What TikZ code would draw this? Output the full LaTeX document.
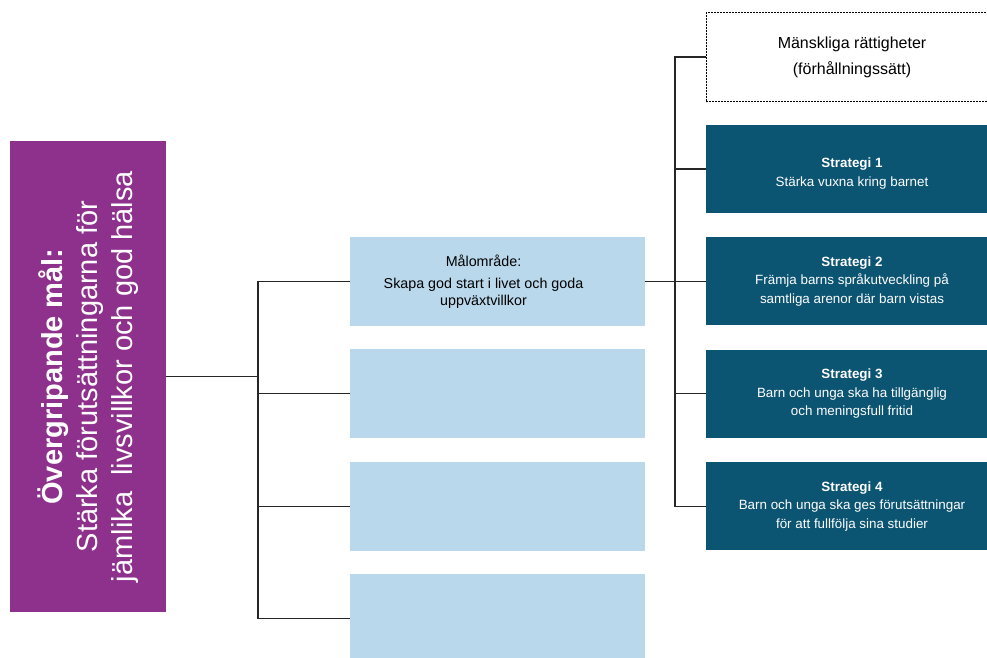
\documentclass[tikz,border=0pt]{standalone}
\usepackage{fontspec}
\setmainfont{Liberation Sans}
\usetikzlibrary{positioning}
\definecolor{goal_purple}{RGB}{142,49,141}
\definecolor{strat_blue}{RGB}{11,84,114}
\definecolor{area_blue}{RGB}{185,216,235}

\begin{document}
\begin{tikzpicture}[x=1pt, y=1pt, node distance=23pt,
	area/.style={fill=area_blue, minimum width=295pt, minimum height=89pt, inner sep=0pt, align=center, font=\fontsize{14.3}{17}\selectfont},
	strat/.style={fill=strat_blue, text=white, minimum width=292pt, minimum height=88pt, inner sep=0pt, align=center, font=\fontsize{13.4}{18.5}\selectfont},
	link/.style={draw=black!85, line width=1.1pt}]
				\useasboundingbox (0,0) rectangle (987,-657);
				\node (goal_main) [fill=goal_purple, minimum width=156pt, minimum height=471pt, inner sep=0pt] at (88,-376.5) {};
				\node (goal_text) [rotate=90, text=white, align=center, font=\fontsize{29}{35}\selectfont] at (goal_main.center) {
					\textbf{Övergripande mål:}\\
					Stärka förutsättningarna för\\
					jämlika\ \ livsvillkor och god hälsa
				};
				\node (area_one) [area] at (497.5,-281.5) {};
				\node (area_one_text) [align=center, font=\fontsize{14.3}{17}\selectfont] at ([xshift=-14pt]area_one.center) {Målområde:\\[5pt] Skapa god start i livet och goda\\ uppväxtvillkor};
				\node (area_two) [area, below=of area_one] {};
				\node (area_three) [area, below=of area_two] {};
				\node (area_four) [area, below=of area_three] {};
				\node (rights) [draw, dash pattern=on 2pt off 1pt, line width=.7pt, minimum width=292pt, minimum height=89pt, inner sep=0pt, align=center, font=\fontsize{16}{26}\selectfont] at (852,-57) {Mänskliga rättigheter\\ (förhållningssätt)};
				\node (strat_one) [strat] at (852,-169) {\\ \textbf{Strategi 1}\\ Stärka vuxna kring barnet};
				\node (strat_two) [strat, below=24pt of strat_one] {\textbf{Strategi 2}\\ Främja barns språkutveckling på\\ samtliga arenor där barn vistas};
				\node (strat_three) [strat, below=24pt of strat_two] {\textbf{Strategi 3}\\ Barn och unga ska ha tillgänglig\\ och meningsfull fritid};
				\node (strat_four) [strat, below=24pt of strat_three] {\textbf{Strategi 4}\\ Barn och unga ska ges förutsättningar\\ för att fullfölja sina studier};
				\coordinate (left_fork) at (258,-376.5);
				\coordinate (right_fork) at (675,-281.5);
				\draw [link] (goal_main.east) -- (left_fork);
				\draw [link] (area_one.west) -| (left_fork);
				\draw [link] (area_two.west) -| (left_fork);
				\draw [link] (area_three.west) -| (left_fork);
				\draw [link] (area_four.west) -| (left_fork);
				\draw [link] (area_one.east) -- (right_fork);
				\draw [link] (rights.west) -| (right_fork);
				\draw [link] (strat_one.west) -| (right_fork);
				\draw [link] (strat_two.west) -| (right_fork);
				\draw [link] (strat_three.west) -| (right_fork);
				\draw [link] (strat_four.west) -| (right_fork);
			\end{tikzpicture}
\end{document}
